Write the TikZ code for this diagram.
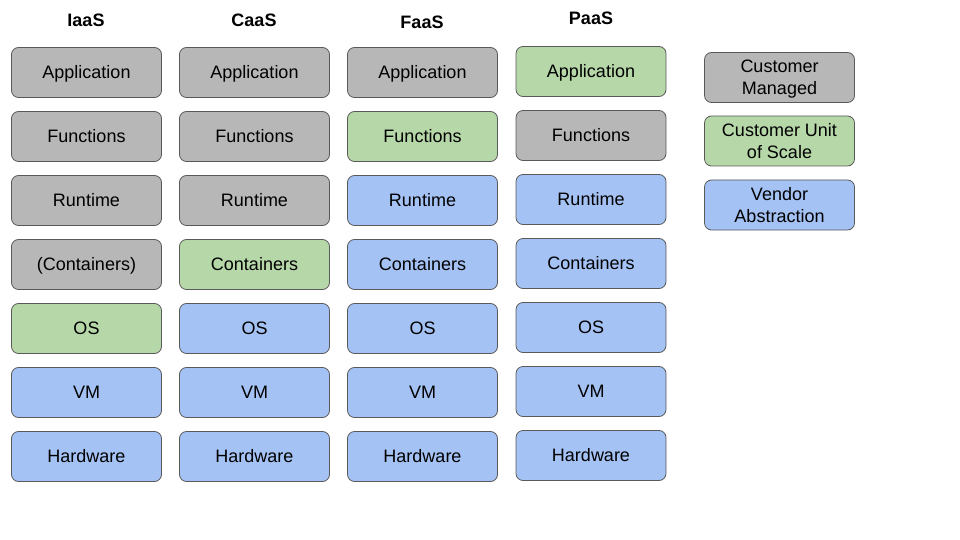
\documentclass[tikz,border=0pt]{standalone}
\usepackage{fontspec}
\setmainfont{Liberation Sans}
\definecolor{cgray}{HTML}{B7B7B7}
\definecolor{cgreen}{HTML}{B6D7A8}
\definecolor{cblue}{HTML}{A4C2F4}
\definecolor{cline}{HTML}{595959}
\begin{document}
\begin{tikzpicture}[x=1pt,y=-1pt,
  layer/.style={draw=cline,line width=0.8pt,rounded corners=7pt,minimum width=150pt,minimum height=50pt,inner sep=0pt,align=center,text height=16.3pt,text depth=3.8pt,font=\fontsize{18}{21.7}\selectfont},
  two/.style={text height=38pt},
  gr/.style={layer,fill=cgray},
  gn/.style={layer,fill=cgreen},
  bl/.style={layer,fill=cblue},
  hdr/.style={font=\fontsize{18}{21.5}\selectfont\bfseries,inner sep=0pt,text height=16.3pt,text depth=3.8pt}]
\useasboundingbox (0,0) rectangle (960,540);
% headers
\node[hdr] (hI) at (86,20.5) {IaaS};
\node[hdr] (hC) at (254,20.5) {CaaS};
\node[hdr] (hF) at (422,22) {FaaS};
\node[hdr] (hP) at (591,18.5) {PaaS};
% IaaS
\node[gr] (i1) at (86.5,72.5) {Application};
\node[gr] (i2) at (86.5,136.5) {Functions};
\node[gr] (i3) at (86.5,200.5) {Runtime};
\node[gr] (i4) at (86.5,264.5) {(Containers)};
\node[gn] (i5) at (86.5,328.5) {OS};
\node[bl] (i6) at (86.5,392.5) {VM};
\node[bl] (i7) at (86.5,456.5) {Hardware};
% CaaS
\node[gr] (c1) at (254.5,72.5) {Application};
\node[gr] (c2) at (254.5,136.5) {Functions};
\node[gr] (c3) at (254.5,200.5) {Runtime};
\node[gn] (c4) at (254.5,264.5) {Containers};
\node[bl] (c5) at (254.5,328.5) {OS};
\node[bl] (c6) at (254.5,392.5) {VM};
\node[bl] (c7) at (254.5,456.5) {Hardware};
% FaaS
\node[gr] (f1) at (422.5,72.5) {Application};
\node[gn] (f2) at (422.5,136.5) {Functions};
\node[bl] (f3) at (422.5,200.5) {Runtime};
\node[bl] (f4) at (422.5,264.5) {Containers};
\node[bl] (f5) at (422.5,328.5) {OS};
\node[bl] (f6) at (422.5,392.5) {VM};
\node[bl] (f7) at (422.5,456.5) {Hardware};
% PaaS
\node[gn] (p1) at (591,71.5) {Application};
\node[gr] (p2) at (591,135.5) {Functions};
\node[bl] (p3) at (591,199.5) {Runtime};
\node[bl] (p4) at (591,263.5) {Containers};
\node[bl] (p5) at (591,327.5) {OS};
\node[bl] (p6) at (591,391.5) {VM};
\node[bl] (p7) at (591,455.5) {Hardware};
% legend
\node[gr,two] (l1) at (779.5,77.5) {Customer\\Managed};
\node[gn,two] (l2) at (779.5,141) {Customer Unit\\of Scale};
\node[bl,two] (l3) at (779.5,205) {Vendor\\Abstraction};
\end{tikzpicture}
\end{document}
